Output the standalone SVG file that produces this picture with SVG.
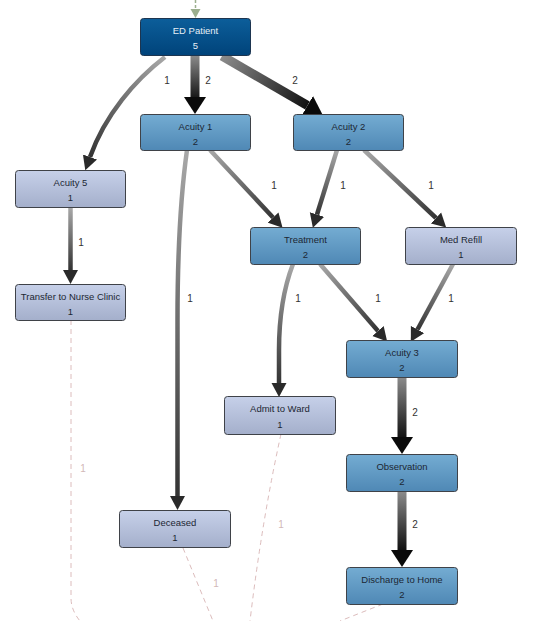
<svg xmlns="http://www.w3.org/2000/svg" width="536" height="621" viewBox="0 0 536 621">
<style>
.node rect{stroke:#3f4248;stroke-width:1}
.blue rect{fill:url(#gBlue)}
.light rect{fill:url(#gLight)}
.dark rect{fill:url(#gDark);stroke:#1d3550}
.node text{font-family:"Liberation Sans",Arial,sans-serif;font-size:9.5px;text-anchor:middle;fill:#1c2733}
.dark text{fill:#e6eef6}
.e{fill:none;stroke-linecap:butt}
.thin{stroke-width:4.5;marker-end:url(#ahS)}
.thick{stroke-width:9;marker-end:url(#ahB)}
.dash{fill:none;stroke:#dcbcbc;stroke-width:1;stroke-dasharray:5,4}
.lbl{font-family:"Liberation Sans",Arial,sans-serif;font-size:10px;fill:#333;text-anchor:middle}
.dlbl{font-family:"Liberation Sans",Arial,sans-serif;font-size:10px;fill:#d2b8b8;text-anchor:middle}
</style>
<defs>
<linearGradient id="gBlue" x1="0" y1="0" x2="0" y2="1"><stop offset="0" stop-color="#74acd2"/><stop offset="1" stop-color="#4f88b5"/></linearGradient>
<linearGradient id="gLight" x1="0" y1="0" x2="0" y2="1"><stop offset="0" stop-color="#c6d0e9"/><stop offset="1" stop-color="#a4afcb"/></linearGradient>
<linearGradient id="gDark" x1="0" y1="0" x2="0" y2="1"><stop offset="0" stop-color="#0c5e9a"/><stop offset="1" stop-color="#00437a"/></linearGradient>
<marker id="ahB" markerUnits="userSpaceOnUse" markerWidth="18" markerHeight="24" viewBox="0 -12 18 24" refX="0" refY="0" orient="auto"><path d="M0,-11 L17,0 L0,11 Z" fill="#0a0a0a"/></marker>
<marker id="ahS" markerUnits="userSpaceOnUse" markerWidth="15" markerHeight="16" viewBox="0 -8 15 16" refX="0" refY="0" orient="auto"><path d="M0,-7.5 L14,0 L0,7.5 Z" fill="#2a2a2a"/></marker>
<marker id="ahG" markerUnits="userSpaceOnUse" markerWidth="10" markerHeight="12" viewBox="0 -6 10 12" refX="0" refY="0" orient="auto"><path d="M0,-5 L9,0 L0,5 Z" fill="#9caf8e"/></marker>
<linearGradient id="eA" gradientUnits="userSpaceOnUse" x1="195" y1="55" x2="195" y2="100"><stop offset="0" stop-color="#8c8c8c"/><stop offset="1" stop-color="#111"/></linearGradient>
<linearGradient id="eB" gradientUnits="userSpaceOnUse" x1="222" y1="56" x2="308" y2="106"><stop offset="0" stop-color="#8c8c8c"/><stop offset="1" stop-color="#111"/></linearGradient>
<linearGradient id="eC" gradientUnits="userSpaceOnUse" x1="165" y1="57" x2="90" y2="157"><stop offset="0" stop-color="#a8a8a8"/><stop offset="1" stop-color="#333"/></linearGradient>
<linearGradient id="eD" gradientUnits="userSpaceOnUse" x1="210" y1="150" x2="273" y2="218"><stop offset="0" stop-color="#a8a8a8"/><stop offset="1" stop-color="#333"/></linearGradient>
<linearGradient id="eE" gradientUnits="userSpaceOnUse" x1="187" y1="150" x2="178" y2="497"><stop offset="0" stop-color="#a8a8a8"/><stop offset="1" stop-color="#333"/></linearGradient>
<linearGradient id="eF" gradientUnits="userSpaceOnUse" x1="337" y1="150" x2="317" y2="215"><stop offset="0" stop-color="#a8a8a8"/><stop offset="1" stop-color="#333"/></linearGradient>
<linearGradient id="eG" gradientUnits="userSpaceOnUse" x1="364" y1="150" x2="436" y2="218"><stop offset="0" stop-color="#a8a8a8"/><stop offset="1" stop-color="#333"/></linearGradient>
<linearGradient id="eH" gradientUnits="userSpaceOnUse" x1="70" y1="208" x2="70" y2="270"><stop offset="0" stop-color="#a8a8a8"/><stop offset="1" stop-color="#333"/></linearGradient>
<linearGradient id="eI" gradientUnits="userSpaceOnUse" x1="293" y1="264" x2="279" y2="384"><stop offset="0" stop-color="#a8a8a8"/><stop offset="1" stop-color="#333"/></linearGradient>
<linearGradient id="eJ" gradientUnits="userSpaceOnUse" x1="320" y1="264" x2="378" y2="331"><stop offset="0" stop-color="#a8a8a8"/><stop offset="1" stop-color="#333"/></linearGradient>
<linearGradient id="eK" gradientUnits="userSpaceOnUse" x1="453" y1="264" x2="417" y2="330"><stop offset="0" stop-color="#a8a8a8"/><stop offset="1" stop-color="#333"/></linearGradient>
<linearGradient id="eL" gradientUnits="userSpaceOnUse" x1="402" y1="377" x2="402" y2="438"><stop offset="0" stop-color="#8c8c8c"/><stop offset="1" stop-color="#111"/></linearGradient>
<linearGradient id="eM" gradientUnits="userSpaceOnUse" x1="402" y1="491" x2="402" y2="550"><stop offset="0" stop-color="#8c8c8c"/><stop offset="1" stop-color="#111"/></linearGradient>
</defs>
<rect width="536" height="621" fill="#ffffff"/>
<g id="connectors">
<path d="M195.5,0 L195.5,9" fill="none" stroke="#9caf8e" stroke-width="1.5" stroke-dasharray="3,2" marker-end="url(#ahG)"/>
<path class="dash" d="M71,320 L71,598 Q71,610 80,621"/>
<path class="dash" d="M183,548 L213,621"/>
<path class="dash" d="M281,434 Q262,520 250,621"/>
<path class="dash" d="M383,604 L340,621"/>
<path class="e thick" stroke="url(#eA)" d="M195,55 L195,97"/>
<path class="e thick" stroke="url(#eB)" d="M222,56 L307.5,105.5"/>
<path class="e thin" stroke="url(#eC)" d="M165,57 C135,80 105,115 90,157"/>
<path class="e thin" stroke="url(#eD)" d="M210,150 L273,217.5"/>
<path class="e thin" stroke="url(#eE)" d="M187,150 C180,200 177.5,260 177.5,320 L177.5,496"/>
<path class="e thin" stroke="url(#eF)" d="M337,150 L317,214.5"/>
<path class="e thin" stroke="url(#eG)" d="M364,150 L436,218"/>
<path class="e thin" stroke="url(#eH)" d="M70.5,208 L70.5,270"/>
<path class="e thin" stroke="url(#eI)" d="M293,264 C283,290 279,320 279,350 L279,383"/>
<path class="e thin" stroke="url(#eJ)" d="M320,264 L378,331"/>
<path class="e thin" stroke="url(#eK)" d="M453,264 L417.5,329.5"/>
<path class="e thick" stroke="url(#eL)" d="M402,377 L402,437"/>
<path class="e thick" stroke="url(#eM)" d="M402,491 L402,550"/>
<text class="lbl" x="167" y="84">1</text>
<text class="lbl" x="208" y="84">2</text>
<text class="lbl" x="295" y="84">2</text>
<text class="lbl" x="274" y="189">1</text>
<text class="lbl" x="343" y="189">1</text>
<text class="lbl" x="431" y="189">1</text>
<text class="lbl" x="81" y="246">1</text>
<text class="lbl" x="190" y="302">1</text>
<text class="lbl" x="298" y="302">1</text>
<text class="lbl" x="378" y="302">1</text>
<text class="lbl" x="451" y="302">1</text>
<text class="lbl" x="415" y="416">2</text>
<text class="lbl" x="415" y="528">2</text>
<text class="dlbl" x="83" y="472">1</text>
<text class="dlbl" x="281" y="528">1</text>
<text class="dlbl" x="216" y="587">1</text>
</g>
<g id="node-ed-patient" class="node dark"><rect x="140.5" y="18.5" width="110" height="37" rx="3"/><text x="195.5" y="34">ED Patient</text><text x="195.5" y="49">5</text></g>
<g id="node-acuity-1" class="node blue"><rect x="140.5" y="114.5" width="110" height="36" rx="3"/><text x="195.5" y="130">Acuity 1</text><text x="195.5" y="145">2</text></g>
<g id="node-acuity-2" class="node blue"><rect x="293.5" y="114.5" width="110" height="36" rx="3"/><text x="348.5" y="130">Acuity 2</text><text x="348.5" y="145">2</text></g>
<g id="node-acuity-5" class="node light"><rect x="15.5" y="170.5" width="110" height="37" rx="3"/><text x="70.5" y="186">Acuity 5</text><text x="70.5" y="201">1</text></g>
<g id="node-transfer" class="node light"><rect x="15.5" y="284.5" width="110" height="36" rx="3"/><text x="70.5" y="300">Transfer to Nurse Clinic</text><text x="70.5" y="315">1</text></g>
<g id="node-treatment" class="node blue"><rect x="250.5" y="227.5" width="110" height="37" rx="3"/><text x="305.5" y="243">Treatment</text><text x="305.5" y="258">2</text></g>
<g id="node-med-refill" class="node light"><rect x="405.5" y="227.5" width="111" height="37" rx="3"/><text x="461" y="243">Med Refill</text><text x="461" y="258">1</text></g>
<g id="node-acuity-3" class="node blue"><rect x="346.5" y="340.5" width="111" height="37" rx="3"/><text x="402" y="356">Acuity 3</text><text x="402" y="371">2</text></g>
<g id="node-admit" class="node light"><rect x="224.5" y="396.5" width="111" height="38" rx="3"/><text x="280" y="412">Admit to Ward</text><text x="280" y="428">1</text></g>
<g id="node-observation" class="node blue"><rect x="346.5" y="454.5" width="111" height="37" rx="3"/><text x="402" y="470">Observation</text><text x="402" y="485">2</text></g>
<g id="node-deceased" class="node light"><rect x="119.5" y="510.5" width="111" height="37" rx="3"/><text x="175" y="526">Deceased</text><text x="175" y="541">1</text></g>
<g id="node-discharge" class="node blue"><rect x="346.5" y="567.5" width="111" height="37" rx="3"/><text x="402" y="583">Discharge to Home</text><text x="402" y="598">2</text></g>
</svg>
